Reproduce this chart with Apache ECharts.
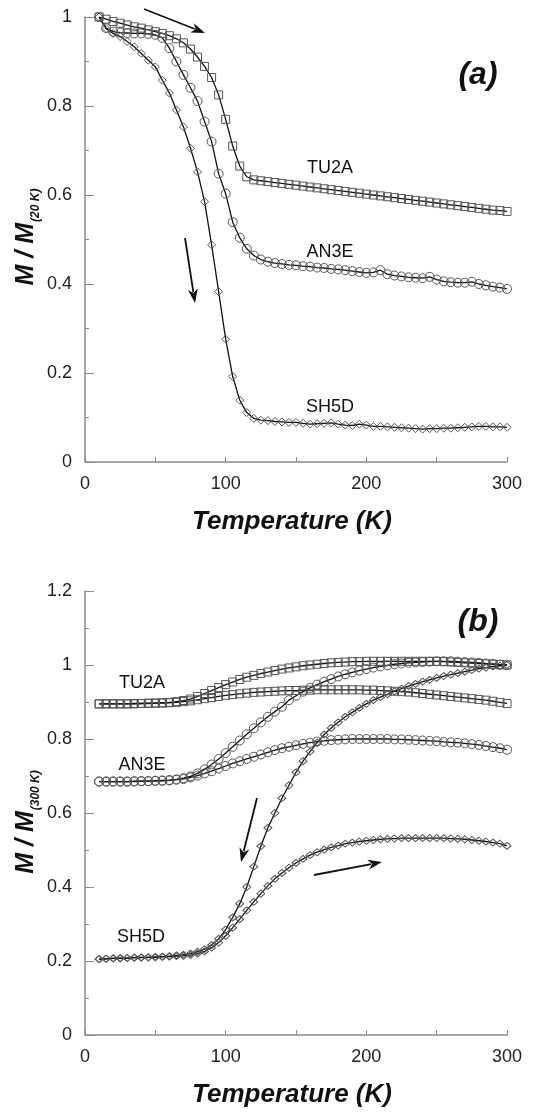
<!DOCTYPE html>
<html>
<head>
<meta charset="utf-8">
<script src="https://cdn.jsdelivr.net/npm/echarts@6/dist/echarts.min.js"></script>
<style>
  html, body { margin: 0; padding: 0; background: #fff; }
  #chart { width: 551px; height: 1113px; }
</style>
</head>
<body>
<div id="chart"></div>
<script>
// measurement temperatures (K)
var temps = [10,15,20,25,30,35,40,45,50,55,60,65,70,75,80,85,90,95,100,105,110,115,120,125,130,135,140,145,150,155,160,165,170,175,180,185,190,195,200,205,210,215,220,225,230,235,240,245,250,255,260,265,270,275,280,285,290,295,300];

// panel (a): M / M(20 K)
var tu2aA = [1.0,0.995,0.99,0.986,0.982,0.978,0.975,0.971,0.967,0.963,0.958,
  0.951,0.942,0.928,0.91,0.889,0.864,0.825,0.77,0.71,0.665,0.641,0.634,
  0.632,0.63,0.628,0.626,0.624,0.622,0.62,0.618,0.616,0.614,
  0.612,0.61,0.608,0.606,0.604,0.602,0.6,0.598,0.596,0.594,
  0.592,0.59,0.588,0.586,0.584,0.582,0.58,0.578,0.576,0.574,
  0.572,0.57,0.568,0.566,0.565,0.563];
var an3eA = [1.0,0.975,0.967,0.965,0.964,0.963,0.963,0.962,0.96,0.953,0.93,
  0.9,0.87,0.841,0.811,0.765,0.72,0.648,0.603,0.539,0.504,0.479,0.464,
  0.455,0.45,0.447,0.445,0.443,0.442,0.44,0.439,0.437,0.436,
  0.434,0.433,0.431,0.429,0.427,0.425,0.426,0.431,0.422,0.419,
  0.417,0.415,0.414,0.413,0.416,0.41,0.406,0.404,0.403,0.403,
  0.405,0.4,0.397,0.394,0.392,0.389];
var sh5dA = [1.0,0.974,0.963,0.956,0.945,0.933,0.918,0.903,0.888,0.858,0.829,
  0.791,0.753,0.705,0.652,0.585,0.488,0.383,0.276,0.192,0.139,0.111,0.098,
  0.094,0.093,0.091,0.09,0.089,0.089,0.087,0.085,0.086,0.087,
  0.088,0.085,0.083,0.082,0.085,0.083,0.08,0.08,0.079,0.078,
  0.077,0.076,0.075,0.074,0.075,0.075,0.076,0.076,0.077,0.078,
  0.079,0.08,0.08,0.079,0.079,0.078];

// panel (b): M / M(300 K), two branches per sample
var tu2aUp = [0.895,0.895,0.895,0.895,0.895,0.896,0.896,0.897,0.897,0.898,0.899,
  0.901,0.904,0.908,0.915,0.923,0.931,0.939,0.947,0.954,0.961,0.967,0.972,
  0.977,0.981,0.985,0.989,0.992,0.995,0.998,1.0,1.002,1.004,
  1.006,1.007,1.008,1.009,1.009,1.01,1.01,1.01,1.01,1.01,
  1.01,1.01,1.01,1.01,1.01,1.01,1.009,1.008,1.007,1.006,
  1.005,1.004,1.003,1.002,1.001,1.0];
var tu2aLow = [0.895,0.895,0.895,0.895,0.895,0.895,0.896,0.896,0.897,0.897,0.898,
  0.899,0.901,0.903,0.906,0.909,0.912,0.915,0.918,0.92,0.922,0.924,0.926,
  0.927,0.928,0.929,0.93,0.931,0.931,0.932,0.932,0.933,0.933,
  0.933,0.933,0.933,0.933,0.933,0.932,0.932,0.931,0.93,0.929,
  0.928,0.927,0.925,0.923,0.921,0.919,0.917,0.915,0.913,0.911,
  0.909,0.907,0.905,0.902,0.899,0.896];
var an3eUp = [0.685,0.685,0.685,0.685,0.685,0.686,0.686,0.686,0.687,0.688,0.689,
  0.691,0.694,0.699,0.707,0.718,0.731,0.746,0.762,0.779,0.796,0.813,0.829,
  0.845,0.86,0.874,0.887,0.905,0.917,0.928,0.938,0.947,0.955,
  0.962,0.969,0.975,0.98,0.985,0.989,0.993,0.996,0.999,1.002,
  1.004,1.006,1.007,1.008,1.009,1.01,1.01,1.01,1.009,1.008,
  1.007,1.006,1.004,1.003,1.001,1.0];
var an3eLow = [0.685,0.685,0.685,0.685,0.685,0.685,0.686,0.686,0.687,0.687,0.688,
  0.69,0.692,0.696,0.701,0.707,0.713,0.72,0.727,0.734,0.74,0.746,0.752,
  0.758,0.764,0.77,0.775,0.779,0.783,0.787,0.79,0.793,0.795,
  0.797,0.798,0.799,0.8,0.8,0.8,0.8,0.8,0.8,0.799,
  0.799,0.798,0.797,0.796,0.795,0.794,0.792,0.791,0.79,0.788,
  0.786,0.784,0.781,0.778,0.775,0.771];
var sh5dUp = [0.205,0.206,0.207,0.208,0.208,0.209,0.21,0.21,0.211,0.212,0.213,
  0.215,0.217,0.22,0.225,0.232,0.243,0.26,0.285,0.318,0.355,0.4,0.455,
  0.51,0.56,0.6,0.64,0.675,0.71,0.74,0.766,0.79,0.812,
  0.83,0.845,0.86,0.872,0.884,0.895,0.905,0.913,0.921,0.929,
  0.936,0.943,0.949,0.955,0.96,0.965,0.97,0.974,0.978,0.982,
  0.986,0.99,0.993,0.996,0.998,1.0];
var sh5dLow = [0.205,0.206,0.207,0.207,0.208,0.209,0.209,0.21,0.21,0.211,0.212,
  0.213,0.214,0.216,0.22,0.226,0.236,0.25,0.268,0.29,0.313,0.337,0.36,
  0.382,0.403,0.422,0.438,0.452,0.465,0.476,0.486,0.494,0.501,
  0.507,0.512,0.517,0.52,0.523,0.525,0.527,0.529,0.53,0.531,
  0.532,0.532,0.532,0.532,0.532,0.532,0.532,0.531,0.53,0.529,
  0.527,0.525,0.523,0.52,0.517,0.511];

var FONT = '"Liberation Sans", Arial, sans-serif';
var chart = echarts.init(document.getElementById('chart'));

function pairs(vals) {
  return temps.map(function (t, i) { return [t, vals[i]]; });
}

function curve(name, vals, symbol, size, idx) {
  return {
    name: name, type: 'line', xAxisIndex: idx, yAxisIndex: idx,
    data: pairs(vals), symbol: symbol, symbolSize: size, showAllSymbol: true,
    lineStyle: { color: '#111', width: 1.3 },
    itemStyle: { color: 'rgba(255,255,255,0)', borderColor: '#555', borderWidth: 1 },
    emphasis: { disabled: true }, z: 3
  };
}

function xAxis(idx) {
  return {
    type: 'value', gridIndex: idx, min: 0, max: 300, interval: 100,
    axisLine: { lineStyle: { color: '#8a8a8a', width: 1.5 } },
    axisTick: { inside: true, length: 5, lineStyle: { color: '#8a8a8a' } },
    minorTick: { show: true, splitNumber: 2, length: 5, lineStyle: { color: '#8a8a8a' } },
    splitLine: { show: false },
    axisLabel: { color: '#222', fontSize: 18, fontFamily: FONT, margin: 13 }
  };
}

function yAxis(idx, max) {
  return {
    type: 'value', gridIndex: idx, min: 0, max: max, interval: 0.2,
    axisLine: { show: true, lineStyle: { color: '#8a8a8a', width: 1.5 } },
    axisTick: { show: true, inside: true, length: 9, lineStyle: { color: '#8a8a8a' } },
    minorTick: { show: true, splitNumber: 2, length: 4, lineStyle: { color: '#8a8a8a' } },
    splitLine: { show: false },
    axisLabel: { color: '#222', fontSize: 18, fontFamily: FONT, margin: 13 }
  };
}

function txt(x, y, s, size) {
  return { type: 'text', x: x, y: y, style: { text: s, font: size + 'px ' + FONT, fill: '#111', textAlign: 'center', textVerticalAlign: 'middle' } };
}

function bold(x, y, s, size) {
  return { type: 'text', x: x, y: y, style: { text: s, font: 'italic bold ' + size + 'px ' + FONT, fill: '#111', textAlign: 'center', textVerticalAlign: 'middle' } };
}

function yTitle(x, y, sub) {
  return {
    type: 'text', x: x, y: y, rotation: Math.PI / 2,
    style: {
      text: '{m|M / M}{s|' + sub + '}',
      textAlign: 'center', textVerticalAlign: 'middle',
      rich: {
        m: { font: 'italic bold 25px ' + FONT, fill: '#111', lineHeight: 30, verticalAlign: 'bottom' },
        s: { font: 'italic bold 12px ' + FONT, fill: '#111', lineHeight: 30, verticalAlign: 'bottom', padding: [0, 0, -3, 1] }
      }
    }
  };
}

function arrow(x1, y1, x2, y2) {
  var a = Math.atan2(y2 - y1, x2 - x1);
  var L = 14, W = 5;
  var bx = x2 - L * Math.cos(a), by = y2 - L * Math.sin(a);
  var px = -Math.sin(a) * W, py = Math.cos(a) * W;
  return [
    { type: 'line', shape: { x1: x1, y1: y1, x2: bx + 3 * Math.cos(a), y2: by + 3 * Math.sin(a) }, style: { stroke: '#111', lineWidth: 1.8 } },
    { type: 'polygon', shape: { points: [[x2, y2], [bx + px, by + py], [bx + 4 * Math.cos(a), by + 4 * Math.sin(a)], [bx - px, by - py]] }, style: { fill: '#111' } }
  ];
}

var graphics = [
  yTitle(24, 237, '(20 K)'),
  yTitle(24, 822, '(300 K)'),
  bold(292, 522, 'Temperature (K)', 26),
  bold(292, 1095, 'Temperature (K)', 26),
  bold(478, 75, '(a)', 32),
  bold(478, 622, '(b)', 32),
  txt(330, 168, 'TU2A', 18),
  txt(330, 252, 'AN3E', 18),
  txt(330, 407, 'SH5D', 18),
  txt(142, 683, 'TU2A', 18),
  txt(142, 765, 'AN3E', 18),
  txt(141, 937, 'SH5D', 18)
].concat(arrow(144, 9, 205, 33), arrow(185, 238, 195, 303),
         arrow(257, 798, 241, 862), arrow(314, 875, 382, 862));

var option = {
  animation: false,
  backgroundColor: '#fff',
  grid: [
    { left: 85, right: 44, top: 17, height: 445 },
    { left: 85, right: 44, top: 591, height: 444 }
  ],
  xAxis: [xAxis(0), xAxis(1)],
  yAxis: [yAxis(0, 1), yAxis(1, 1.2)],
  series: [
    curve('TU2A', tu2aA, 'rect', 8, 0),
    curve('AN3E', an3eA, 'circle', 9, 0),
    curve('SH5D', sh5dA, 'diamond', [8, 8], 0),
    curve('TU2A up', tu2aUp, 'rect', 8, 1),
    curve('TU2A low', tu2aLow, 'rect', 8, 1),
    curve('AN3E up', an3eUp, 'circle', 9, 1),
    curve('AN3E low', an3eLow, 'circle', 9, 1),
    curve('SH5D up', sh5dUp, 'diamond', [8, 7], 1),
    curve('SH5D low', sh5dLow, 'diamond', [8, 7], 1)
  ],
  graphic: graphics
};
chart.setOption(option);
</script>
</body>
</html>
